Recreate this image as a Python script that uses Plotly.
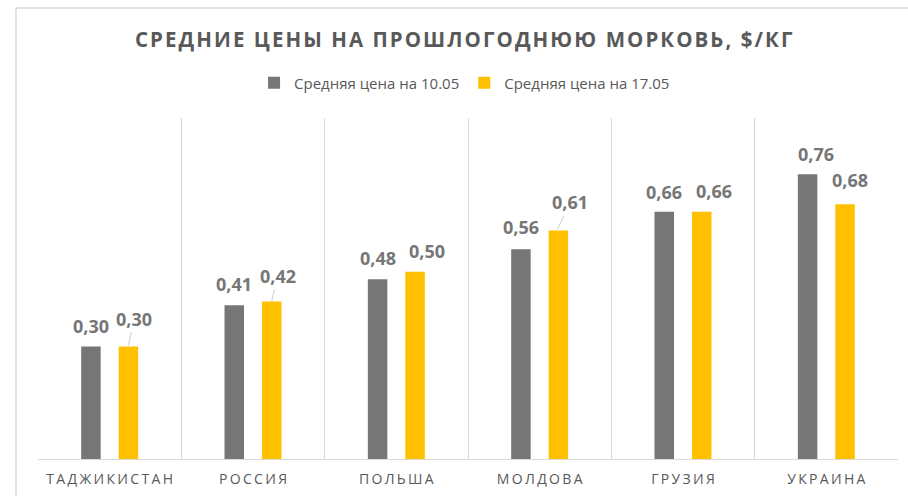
import plotly.graph_objects as go

categories = ["ТАДЖИКИСТАН", "РОССИЯ", "ПОЛЬША", "МОЛДОВА", "ГРУЗИЯ", "УКРАИНА"]
series_names = ["Средняя цена на 10.05", "Средняя цена на 17.05"]
price_1005 = [0.30, 0.41, 0.48, 0.56, 0.66, 0.76]
price_1705 = [0.30, 0.42, 0.50, 0.61, 0.66, 0.68]
title_text = "СРЕДНИЕ ЦЕНЫ НА ПРОШЛОГОДНЮЮ МОРКОВЬ, $/КГ"

W, H = 908, 496
ML, MR, MT, MB = 38, 10, 118, 37
YMAX = 0.91
GRAY = "#767676"
YELLOW = "#FFC000"
TXT = "#595959"
LBL = "#767676"
GRID = "#d9d9d9"

pw = W - ML - MR
ph = H - MT - MB

def fmt(v):
    return f"{v:.2f}".replace(".", ",")

def spaced(s, sp="\u2009"):
    return sp.join(s)

fig = go.Figure()
fig.add_trace(go.Bar(x=categories, y=price_1005, name=series_names[0],
                     marker=dict(color=GRAY, line=dict(width=0))))
fig.add_trace(go.Bar(x=categories, y=price_1705, name=series_names[1],
                     marker=dict(color=YELLOW, line=dict(width=0))))

slot = pw / len(categories) * (1 - 0.477) / 2
off_gray = [(0, 21), (0, 21), (0, 21), (0, 22), (0, 20), (8, 20)]
off_yel = [(6, 27, True), (6, 25, True), (12, 21, False), (13, 27, True), (12, 21, False), (5, 24, False)]

annotations = []
for i, c in enumerate(categories):
    xs, ys = off_gray[i]
    annotations.append(dict(x=c, y=price_1005[i], xref="x", yref="y", text=fmt(price_1005[i]),
                            showarrow=False, xshift=-slot / 2 + xs, yshift=ys,
                            yanchor="middle", xanchor="center",
                            font=dict(family="Open Sans", size=18, color=LBL, weight="bold")))
    xs, ys, arr = off_yel[i]
    if arr:
        annotations.append(dict(x=c, y=price_1705[i], xref="x", yref="y", text=fmt(price_1705[i]),
                                showarrow=True, arrowhead=0, arrowwidth=0.8, arrowcolor="#bfbfbf",
                                ax=xs, ay=-ys, xshift=slot / 2 - (1 if i == 3 else 0), yshift=1,
                                standoff=0,
                                font=dict(family="Open Sans", size=18, color=LBL, weight="bold")))
    else:
        annotations.append(dict(x=c, y=price_1705[i], xref="x", yref="y", text=fmt(price_1705[i]),
                                showarrow=False, xshift=slot / 2 + xs, yshift=ys,
                                yanchor="middle", xanchor="center",
                                font=dict(family="Open Sans", size=18, color=LBL, weight="bold")))

fx = (16 - ML) / pw
fy = (H - MB - 8) / ph
shapes = [
    dict(type="line", xref="paper", yref="paper", x0=fx, x1=(W + 5 - ML) / pw, y0=fy, y1=fy,
         line=dict(color=GRID, width=1.5)),
    dict(type="line", xref="paper", yref="paper", x0=fx, x1=fx, y0=fy, y1=(H - MB - H - 5) / ph,
         line=dict(color=GRID, width=1.5)),
]

fig.update_layout(
    width=W, height=H,
    margin=dict(l=ML, r=MR, t=MT, b=MB, autoexpand=False),
    paper_bgcolor="white", plot_bgcolor="white",
    barmode="group", bargap=0.477, bargroupgap=0.48,
    title=dict(text=spaced(title_text, "\u200a"), x=0.495, xref="paper", xanchor="center",
               y=1 - 40 / H, yref="container", yanchor="middle",
               font=dict(family="Open Sans", size=20.5, color=TXT, weight="bold"),
               automargin=False),
    legend=dict(orientation="h", x=0.496, xanchor="center", y=(H - MB - 83) / ph, yanchor="middle",
                font=dict(family="Open Sans", size=15, color=TXT), itemwidth=30,
                traceorder="normal", bgcolor="rgba(0,0,0,0)"),
    xaxis=dict(type="category", tickmode="array", tickvals=categories,
               ticktext=[spaced(c) for c in categories], tickangle=0, automargin=False,
               tickson="boundaries", showgrid=True, gridcolor=GRID, gridwidth=1,
               showline=True, linecolor=GRID, linewidth=1, ticks="", ticklabelstandoff=7,
               tickfont=dict(family="Open Sans", size=14, color=TXT), fixedrange=True),
    yaxis=dict(range=[0, YMAX], visible=False, showgrid=False, zeroline=False, fixedrange=True,
               automargin=False),
    annotations=annotations,
    shapes=shapes,
    showlegend=True,
)

fig.write_html("out.html", config={"displayModeBar": False},
               post_script="document.body.style.margin='0';document.body.style.padding='0';")
